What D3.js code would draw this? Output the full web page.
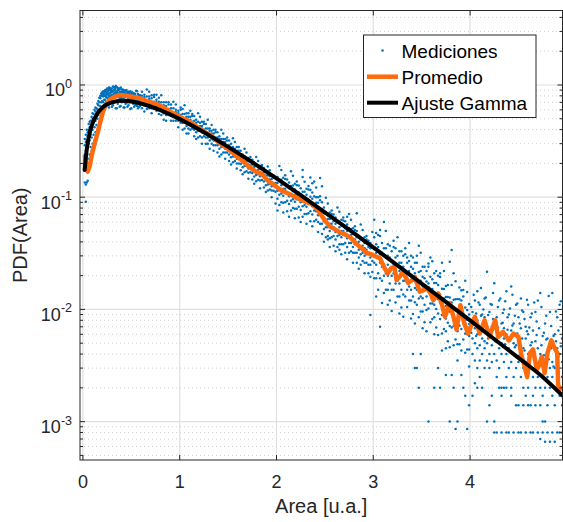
<!DOCTYPE html>
<html>
<head>
<meta charset="utf-8">
<script src="https://cdn.jsdelivr.net/npm/d3@7"></script>
<style>
  body { margin: 0; background: #fff; }
  svg { display: block; }
</style>
</head>
<body>
<svg id="chart" width="563" height="522"></svg>
<script>
// ---- data ----
const xTicks = [0, 1, 2, 3, 4];
const yTicks = [1e-3, 1e-2, 1e-1, 1];
const yTickExp = ['-3', '-2', '-1', '0'];
const legendLabels = ['Mediciones', 'Promedio', 'Ajuste Gamma'];

// each row: [area, measured pdf values at that area...]
const mediciones = [
  [0.02, .135, .2, .24, .29, .33],
  [0.03, .091, .13, .21, .26, .31, .36],
  [0.04, .135, .18, .25, .32, .4],
  [0.05, .14, .22, .28, .35, .38],
  [0.06, .2, .3, .4, .45],
  [0.07, .24, .32, .42, .47],
  [0.08, .22, .28, .36, .48],
  [0.09, .26, .34, .44, .52],
  [0.10, .25, .3, .4, .5, .56],
  [0.11, .29, .36, .46, .55],
  [0.12, .32, .42, .5, .6],
  [0.13, .3, .38, .48, .58, .63],
  [0.14, .36, .44, .55, .62],
  [0.15, .4, .5, .6, .68],
  [0.16, .42, .54, .66, .72],
  [0.17, .47, .6, .7, .77],
  [0.18, .5, .65, .76, .8],
  [0.19, .55, .7, .8, .84],
  [0.20, .6, .72, .82, .86],
  [0.21, .62, .7, .79, .83, .88],
  [0.22, .64, .74, .8, .84, .88],
  [0.23, .66, .74, .8, .86, .9],
  [0.24, .7, .78, .82, .86, .9],
  [0.25, .7, .77, .83, .87, .93],
  [0.26, .66, .76, .82, .88, .92],
  [0.27, .63, .79, .84, .9, .95],
  [0.28, .72, .8, .85, .9, .94],
  [0.29, .72, .8, .86, .89, .92],
  [0.30, .64, .76, .82, .87, .93],
  [0.31, .66, .76, .81, .88, .97],
  [0.32, .7, .79, .84, .9, .96],
  [0.33, .7, .78, .85, .91, .94],
  [0.34, .62, .78, .83, .88, .95, .98],
  [0.35, .62, .8, .84, .87, .96],
  [0.36, .68, .8, .85, .9, .94],
  [0.37, .74, .79, .83, .9, .93],
  [0.38, .64, .77, .82, .87, .92],
  [0.39, .65, .77, .82, .86, .95],
  [0.40, .7, .76, .81, .86, .91],
  [0.41, .71, .75, .84, .88, .91],
  [0.42, .63, .75, .8, .85, .9],
  [0.43, .63, .78, .8, .85, .89],
  [0.44, .68, .74, .79, .84, .89],
  [0.45, .69, .73, .81, .84, .9],
  [0.46, .64, .73, .78, .83, .87],
  [0.47, .66, .76, .79, .83, .87],
  [0.48, .7, .74, .78, .82, .86],
  [0.49, .61, .72, .77, .82, .88],
  [0.50, .62, .72, .77, .81, .85],
  [0.51, .7, .74, .78, .8, .86],
  [0.52, .68, .73, .77, .8, .84],
  [0.53, .64, .71, .76, .81, .84],
  [0.54, .66, .71, .75, .79, .83],
  [0.55, .67, .72, .75, .79, .89],
  [0.56, .65, .7, .74, .78, .88],
  [0.57, .62, .7, .74, .78, .83],
  [0.58, .64, .69, .73, .77, .81],
  [0.59, .65, .68, .73, .77, .81],
  [0.61, .62, .69, .76, .80, .87],
  [0.635, .58, .66, .72, .78, .82],
  [0.66, .61, .68, .72, .79, .91],
  [0.685, .62, .69, .75, .79, .87],
  [0.71, .56, .62, .67, .71, .76, .81],
  [0.735, .62, .68, .71, .78, .82],
  [0.76, .59, .65, .70, .74, .82],
  [0.785, .55, .61, .67, .71, .77],
  [0.81, .54, .60, .64, .70, .81],
  [0.835, .49, .56, .61, .66, .70],
  [0.86, .48, .54, .57, .62, .65, .70],
  [0.885, .54, .58, .61, .67, .70],
  [0.91, .48, .53, .58, .62, .67],
  [0.935, .48, .53, .56, .62, .71],
  [0.96, .48, .53, .57, .6, .67],
  [0.985, .42, .48, .52, .56, .59],
  [1.01, .46, .51, .54, .6, .63],
  [1.03, .40, .46, .51, .55, .61],
  [1.05, .41, .46, .50, .55, .66],
  [1.07, .37, .43, .47, .52, .56],
  [1.09, .37, .41, .45, .49, .52, .56],
  [1.11, .40, .44, .49, .52, .59],
  [1.13, .41, .45, .47, .53, .55],
  [1.15, .35, .40, .44, .48, .53],
  [1.17, .33, .38, .42, .46, .49],
  [1.19, .34, .39, .42, .47, .56],
  [1.21, .35, .39, .43, .46, .52],
  [1.23, .30, .34, .38, .41, .43, .47],
  [1.25, .35, .38, .40, .45, .47],
  [1.27, .30, .34, .38, .41, .45],
  [1.29, .30, .34, .365, .41, .49],
  [1.31, .27, .32, .35, .39, .41],
  [1.33, .30, .33, .37, .39, .44],
  [1.35, .26, .29, .32, .345, .37, .40],
  [1.37, .29, .32, .34, .38, .40],
  [1.39, .25, .29, .32, .34, .38],
  [1.41, .23, .27, .30, .33, .35],
  [1.43, .24, .28, .30, .33, .40],
  [1.45, .25, .28, .31, .33, .37],
  [1.47, .22, .25, .27, .29, .31, .33],
  [1.49, .25, .27, .285, .32, .34],
  [1.51, .21, .24, .27, .29, .32],
  [1.53, .196, .227, .25, .276, .30],
  [1.55, .205, .23, .25, .28, .335],
  [1.57, .21, .23, .257, .27, .31],
  [1.59, .18, .20, .22, .24, .26, .28],
  [1.61, .20, .22, .234, .26, .28],
  [1.63, .174, .198, .22, .24, .26],
  [1.65, .16, .185, .204, .225, .24],
  [1.67, .167, .19, .204, .23, .27],
  [1.69, .17, .19, .21, .224, .25],
  [1.71, .146, .165, .18, .196, .21, .224],
  [1.73, .167, .183, .192, .216, .228],
  [1.75, .144, .164, .182, .196, .216],
  [1.77, .132, .153, .169, .186, .2],
  [1.79, .139, .158, .17, .19, .228],
  [1.81, .143, .16, .176, .188, .21],
  [1.83, .12, .141, .154, .167, .178, .19],
  [1.85, .142, .156, .164, .185, .194],
  [1.87, .122, .138, .154, .166, .182],
  [1.89, .111, .128, .142, .156, .168],
  [1.91, .115, .13, .14, .157, .188],
  [1.93, .117, .131, .144, .154, .174],
  [1.95, .10, .115, .125, .136, .145, .156],
  [1.97, .114, .126, .132, .149, .156],
  [1.99, .088, .112, .124, .134, .148],
  [2.01, .076, .097, .114, .134, .151],
  [2.03, .085, .105, .118, .142, .19],
  [2.05, .09, .108, .128, .143, .175],
  [2.07, .073, .089, .103, .119, .132, .149],
  [2.09, .09, .109, .119, .145, .157],
  [2.11, .075, .093, .111, .125, .144],
  [2.13, .067, .087, .102, .12, .135],
  [2.15, .076, .093, .105, .126, .17],
  [2.17, .08, .096, .113, .127, .155],
  [2.19, .065, .079, .091, .105, .117, .132],
  [2.21, .079, .096, .105, .128, .138],
  [2.23, .066, .082, .098, .11, .127],
  [2.25, .06, .077, .09, .106, .12],
  [2.27, .067, .083, .093, .112, .151, .175],
  [2.29, .071, .085, .1, .112, .137],
  [2.31, .058, .071, .082, .094, .105, .119],
  [2.33, .072, .087, .095, .117, .126],
  [2.35, .061, .075, .09, .101, .116, .15],
  [2.37, .055, .07, .083, .097, .11, .133],
  [2.39, .061, .076, .085, .102, .138],
  [2.41, .063, .075, .089, .1, .122],
  [2.43, .049, .06, .069, .08, .089, .1],
  [2.45, .058, .071, .077, .094, .102, .148],
  [2.47, .047, .058, .069, .078, .09, .125],
  [2.49, .04, .052, .061, .072, .081],
  [2.51, .044, .054, .061, .073, .099],
  [2.53, .042, .045, .054, .064, .071, .088],
  [2.55, .036, .043, .05, .058, .064, .073],
  [2.57, .044, .053, .058, .071, .076],
  [2.59, .037, .045, .054, .061, .07],
  [2.61, .033, .042, .049, .058, .066],
  [2.63, .036, .045, .05, .06, .081],
  [2.65, .034, .038, .046, .054, .06, .074],
  [2.67, .031, .038, .044, .05, .056, .063],
  [2.69, .038, .046, .05, .062, .066],
  [2.71, .032, .039, .047, .053, .061],
  [2.73, .028, .036, .043, .05, .057, .067],
  [2.75, .032, .039, .044, .053, .071],
  [2.77, .033, .039, .046, .052, .063],
  [2.79, .026, .032, .036, .042, .047, .053],
  [2.81, .032, .038, .042, .051, .055],
  [2.83, .026, .032, .039, .044, .05, .072],
  [2.85, .023, .029, .034, .04, .045],
  [2.87, .025, .031, .035, .042, .057],
  [2.89, .027, .032, .037, .042, .051],
  [2.91, .021, .026, .03, .035, .039, .044],
  [2.93, .026, .031, .034, .042, .045],
  [2.95, .021, .025, .032, .036, .041],
  [2.97, .0089, .0195, .025, .029, .035, .039],
  [2.99, .0216, .027, .03, .036, .049],
  [3.01, .019, .026, .036, .044, .063],
  [3.03, .013, .019, .025, .032, .038, .048],
  [3.05, .015, .021, .029, .036, .046],
  [3.07, .007, .019, .026, .031, .045, .051],
  [3.09, .0114, .018, .024, .032, .039],
  [3.11, .014, .02, .025, .035, .06],
  [3.13, .015, .021, .029, .035, .05],
  [3.15, .011, .015, .02, .025, .03, .038],
  [3.17, .012, .017, .023, .029, .037],
  [3.19, .0097, .015, .02, .027, .033],
  [3.21, .015, .021, .025, .036, .041],
  [3.23, .0115, .017, .021, .029, .035],
  [3.25, .013, .018, .025, .03, .044],
  [3.27, .0092, .013, .017, .022, .026, .033],
  [3.29, .0104, .015, .021, .026, .033],
  [3.31, .0086, .0136, .018, .024, .03],
  [3.33, .013, .018, .021, .031, .035],
  [3.35, .0105, .015, .019, .026, .029],
  [3.37, .012, .016, .022, .027, .039],
  [3.39, .0083, .012, .015, .02, .024, .03],
  [3.41, .004, .0091, .013, .018, .023, .029],
  [3.43, .003, .0075, .0116, .0155, .021, .026],
  [3.45, .003, .011, .015, .018, .026, .03],
  [3.47, .002, .0085, .0125, .0155, .0215, .037],
  [3.49, .004, .0096, .013, .018, .022, .032],
  [3.51, .0068, .0096, .0126, .016, .0195, .024],
  [3.53, .0077, .011, .015, .019, .024],
  [3.55, .0064, .0099, .013, .0177, .022],
  [3.57, .001, .0102, .0144, .017, .024, .0257],
  [3.59, .0077, .0113, .014, .0195, .029],
  [3.61, .0082, .0113, .0152, .0186, .0269],
  [3.63, .002, .006, .0085, .011, .0142, .0172, .021],
  [3.65, .0069, .0101, .0137, .0172, .022],
  [3.67, .003, .0059, .0092, .0123, .0165, .02],
  [3.69, .002, .0082, .0115, .0136, .0194, .021],
  [3.71, .0043, .0061, .0089, .011, .0153, .026],
  [3.73, .0067, .0092, .0125, .0152, .022],
  [3.75, .0026, .0045, .0064, .0083, .0107, .0129, .0162],
  [3.77, .0052, .0076, .0103, .0129, .0165],
  [3.79, .001, .0046, .0071, .0096, .0128, .0266],
  [3.81, .0026, .0069, .0098, .0115, .0165, .0338],
  [3.83, .002, .0048, .0071, .0088, .0122, .021],
  [3.85, .00086, .0054, .0075, .0101, .0123, .0178],
  [3.87, .001, .0035, .0049, .0064, .0082, .0099, .0124],
  [3.89, .0049, .0072, .0098, .0123, .0157],
  [3.91, .0026, .0043, .0067, .0089, .012, .0148],
  [3.93, .002, .0054, .0077, .009, .013, .0149],
  [3.95, .0017, .0041, .0061, .0075, .0104, .018],
  [3.97, .00086, .0044, .006, .0081, .0099, .0143],
  [3.99, .0014, .0031, .0044, .0058, .0074, .009, .0112],
  [4.0125, .0062, .0105],
  [4.025, .0017, .004, .0055, .0075, .0095],
  [4.0375, .0078, .0135],
  [4.05, .0022, .0035, .005, .0068, .012],
  [4.0625, .0058, .0092],
  [4.075, .002, .003, .0045, .006, .008, .0145],
  [4.0875, .0068, .0115],
  [4.10, .0025, .0035, .0048, .007, .011],
  [4.1125, .0088, .0155],
  [4.125, .002, .004, .0055, .0065, .009],
  [4.1375, .0064, .01],
  [4.15, .003, .0045, .0052, .0085, .0125],
  [4.1625, .0074, .0128],
  [4.175, .001, .0035, .005, .006, .0217],
  [4.1875, .0055, .0089],
  [4.20, .0014, .003, .004, .0058, .0095],
  [4.2125, .0065, .0112],
  [4.225, .0017, .0034, .0048, .007, .011],
  [4.2375, .0082, .014],
  [4.25, .0008, .001, .004, .0055, .0171],
  [4.2625, .0052, .0078],
  [4.275, .0008, .0025, .0035, .0065, .0085],
  [4.2875, .0069, .0105],
  [4.30, .002, .003, .0045, .006, .012],
  [4.3125, .0058, .0125],
  [4.325, .0008, .0017, .002, .004, .005, .0075],
  [4.3375, .0076, .0093],
  [4.35, .002, .0034, .0055, .0068, .01],
  [4.3625, .0049, .0118],
  [4.375, .0008, .002, .0025, .004, .006, .0145],
  [4.3875, .0066, .0085],
  [4.40, .0008, .003, .0045, .0055, .009],
  [4.4125, .0053, .0102],
  [4.425, .0017, .002, .0034, .0065, .016],
  [4.4375, .0072, .0135],
  [4.45, .0008, .0025, .004, .005, .0075],
  [4.4625, .0046, .0088],
  [4.475, .0014, .003, .0048, .006, .011],
  [4.4875, .0061, .0113],
  [4.50, .0008, .0014, .0034, .0052, .0085],
  [4.5125, .0039, .0075],
  [4.525, .0008, .0025, .004, .0068, .0125],
  [4.5375, .0055, .0098],
  [4.55, .0014, .002, .003, .0045, .0095],
  [4.5625, .0043, .0082],
  [4.575, .0008, .0017, .0034, .0055, .007],
  [4.5875, .0064, .0122],
  [4.60, .0014, .002, .004, .006, .011],
  [4.6125, .0037, .0069],
  [4.625, .0008, .0014, .003, .0048, .0085],
  [4.6375, .0051, .0092],
  [4.65, .0008, .0017, .0025, .004, .0065],
  [4.6625, .0042, .0115],
  [4.675, .0014, .002, .0034, .0052, .0095],
  [4.6875, .0059, .0078],
  [4.70, .0008, .0025, .003, .0045, .012],
  [4.7125, .0034, .0068],
  [4.725, .0007, .0014, .002, .004, .014],
  [4.7375, .0048, .0105],
  [4.75, .0008, .001, .0017, .0025, .0034, .0058],
  [4.7625, .0039, .0062],
  [4.775, .00066, .001, .002, .003, .0075],
  [4.7875, .0054, .0088],
  [4.80, .0008, .0014, .0025, .004, .0055],
  [4.8125, .0036, .0132],
  [4.825, .00066, .002, .003, .0048, .0095],
  [4.8375, .0045, .0071],
  [4.85, .0008, .0017, .0025, .0034, .014],
  [4.8625, .0031, .0058],
  [4.875, .00066, .0014, .002, .003, .006],
  [4.8875, .0052, .0096],
  [4.90, .0008, .0025, .0034, .0045, .0085],
  [4.9125, .0038, .0065],
  [4.925, .0008, .0017, .002, .004, .011],
  [4.9375, .0047, .0118],
  [4.95, .0008, .0014, .0025, .0034, .0055]
];

const promedioX = [0.02, 0.035, 0.05, 0.07, 0.10, 0.13, 0.155, 0.18, 0.207, 0.24, 0.276, 0.32, 0.38, 0.45, 0.52, 0.586, 0.68, 0.79, 0.9, 1.0,
  1.07, 1.15, 1.25, 1.31, 1.4, 1.5, 1.6, 1.72, 1.78, 1.84, 1.88, 1.92, 1.96, 2.03, 2.1, 2.17, 2.25, 2.32, 2.38, 2.45,
  2.5, 2.55, 2.6, 2.65, 2.7, 2.76, 2.82, 2.88, 2.93, 2.98, 3.03, 3.07, 3.12, 3.15, 3.19, 3.22, 3.24, 3.28, 3.31, 3.36,
  3.40, 3.43, 3.48, 3.53, 3.57, 3.62, 3.67, 3.71, 3.74, 3.79, 3.83, 3.86, 3.9, 3.94, 3.98, 4.02, 4.05, 4.10, 4.15, 4.2,
  4.26, 4.29, 4.34, 4.40, 4.45, 4.50, 4.53, 4.56, 4.59, 4.62, 4.65, 4.69, 4.72, 4.74, 4.77, 4.80, 4.84, 4.87, 4.90, 4.91, 4.95];
const promedioY = [0.238, 0.19, 0.169, 0.19, 0.255, 0.32, 0.384, 0.47, 0.578, 0.67, 0.735, 0.78, 0.814, 0.80, 0.78, 0.76, 0.71, 0.66, 0.58, 0.52,
  0.488, 0.44, 0.385, 0.36, 0.31, 0.27, 0.228, 0.187, 0.17, 0.162, 0.15, 0.138, 0.132, 0.118, 0.11, 0.103, 0.095, 0.090, 0.086, 0.072,
  0.062, 0.055, 0.052, 0.049, 0.047, 0.044, 0.039, 0.035, 0.032, 0.031, 0.0295, 0.0285, 0.023, 0.021, 0.0235, 0.0234, 0.0183, 0.02, 0.0217, 0.0172,
  0.0182, 0.0194, 0.0144, 0.015, 0.0155, 0.0121, 0.0139, 0.011, 0.0086, 0.0114, 0.0085, 0.0066, 0.0109, 0.0075, 0.0061, 0.0075, 0.0086, 0.0061, 0.0080, 0.0057,
  0.0080, 0.0057, 0.0063, 0.0053, 0.0061, 0.0057, 0.0039, 0.0032, 0.0025, 0.0041, 0.0044, 0.0029, 0.0033, 0.0038, 0.0027, 0.0041, 0.0053, 0.0046, 0.0041, 0.0021, 0.0019];

const gammaX = [0.018, 0.03, 0.05, 0.075, 0.1, 0.15, 0.2, 0.25, 0.3, 0.4, 0.5, 0.6, 0.8, 1.0, 1.25, 1.5, 1.75, 2.0,
  2.25, 2.5, 2.75, 3.0, 3.25, 3.5, 3.75, 4.0, 4.25, 4.5, 4.75, 4.95];
const gammaY = [0.175, 0.225, 0.306, 0.389, 0.457, 0.557, 0.626, 0.672, 0.701, 0.724, 0.714, 0.684, 0.596, 0.496, 0.379, 0.281, 0.205, 0.147,
  0.1044, 0.0734, 0.0513, 0.0357, 0.0247, 0.0170, 0.01165, 0.00798, 0.00544, 0.0037, 0.0025, 0.00172];

// ---- layout ----
const plot = { left: 80, right: 562.5, top: 10.5, bottom: 460 };
const axisColor = '#262626';
const font = "'Liberation Sans', Arial, Helvetica, sans-serif";

const svg = d3.select('#chart');

const x = d3.scaleLinear().domain([-0.03, 4.955]).range([plot.left, plot.right]);
const y = d3.scaleLog().domain([4.55e-4, 4.61]).range([plot.bottom, plot.top]);

// minor log ticks 2..9 per decade
const yMinor = [];
for (let d = -4; d <= 0; d++) {
  for (let m = 2; m <= 9; m++) {
    const v = m * Math.pow(10, d);
    if (v > y.domain()[0] && v < y.domain()[1]) yMinor.push(v);
  }
}

svg.append('defs').append('clipPath').attr('id', 'clip')
  .append('rect')
  .attr('x', plot.left).attr('y', plot.top)
  .attr('width', plot.right - plot.left).attr('height', plot.bottom - plot.top);

// grid
const grid = svg.append('g').attr('class', 'grid');
grid.selectAll('.minor-y').data(yMinor).join('line')
  .attr('x1', plot.left).attr('x2', plot.right)
  .attr('y1', d => y(d)).attr('y2', d => y(d))
  .attr('stroke', '#c4c4c4').attr('stroke-width', 0.8)
  .attr('stroke-dasharray', '1,3');
grid.selectAll('.major-y').data(yTicks).join('line')
  .attr('x1', plot.left).attr('x2', plot.right)
  .attr('y1', d => y(d)).attr('y2', d => y(d))
  .attr('stroke', '#e0e0e0').attr('stroke-width', 1.2);
grid.selectAll('.major-x').data(xTicks).join('line')
  .attr('x1', d => x(d)).attr('x2', d => x(d))
  .attr('y1', plot.top).attr('y2', plot.bottom)
  .attr('stroke', '#e0e0e0').attr('stroke-width', 1.2);

const marks = svg.append('g').attr('clip-path', 'url(#clip)');

// scatter
const points = mediciones.flatMap(r => r.slice(1).map(v => [r[0], v]));
marks.append('g').selectAll('circle').data(points).join('circle')
  .attr('cx', d => x(d[0])).attr('cy', d => y(d[1]))
  .attr('r', 1.25)
  .attr('fill', '#0072bd');

const line = d3.line().x(d => x(d[0])).y(d => y(d[1]));

marks.append('path')
  .datum(d3.zip(promedioX, promedioY))
  .attr('d', line)
  .attr('fill', 'none')
  .attr('stroke', '#ff6a0d')
  .attr('stroke-width', 4.5)
  .attr('stroke-linejoin', 'round');

marks.append('path')
  .datum(d3.zip(gammaX, gammaY))
  .attr('d', line.curve(d3.curveMonotoneX))
  .attr('fill', 'none')
  .attr('stroke', '#000')
  .attr('stroke-width', 4)
  .attr('stroke-linecap', 'round');

// axes box and inward ticks
const ax = svg.append('g').attr('stroke', axisColor).attr('stroke-width', 1).attr('fill', 'none');
ax.append('rect')
  .attr('x', plot.left).attr('y', plot.top)
  .attr('width', plot.right - plot.left).attr('height', plot.bottom - plot.top);
xTicks.forEach(t => {
  ax.append('line').attr('x1', x(t)).attr('x2', x(t)).attr('y1', plot.bottom).attr('y2', plot.bottom - 5);
  ax.append('line').attr('x1', x(t)).attr('x2', x(t)).attr('y1', plot.top).attr('y2', plot.top + 5);
});
yTicks.forEach(t => {
  ax.append('line').attr('x1', plot.left).attr('x2', plot.left + 5).attr('y1', y(t)).attr('y2', y(t));
  ax.append('line').attr('x1', plot.right).attr('x2', plot.right - 5).attr('y1', y(t)).attr('y2', y(t));
});
yMinor.forEach(t => {
  ax.append('line').attr('x1', plot.left).attr('x2', plot.left + 3).attr('y1', y(t)).attr('y2', y(t));
  ax.append('line').attr('x1', plot.right).attr('x2', plot.right - 3).attr('y1', y(t)).attr('y2', y(t));
});

// tick labels
svg.append('g').selectAll('text').data(xTicks).join('text')
  .attr('x', d => x(d)).attr('y', 488)
  .attr('text-anchor', 'middle')
  .attr('font-family', font).attr('font-size', 18)
  .attr('fill', axisColor)
  .text(d => d);

const yl = svg.append('g');
yTicks.forEach((t, i) => {
  const g = yl.append('text')
    .attr('x', 72).attr('y', y(t) + 11.5)
    .attr('text-anchor', 'end')
    .attr('font-family', font).attr('font-size', 18)
    .attr('fill', axisColor);
  g.append('tspan').text('10');
  g.append('tspan').attr('font-size', 12.5).attr('dy', -8.5).text(yTickExp[i]);
});

// axis titles
svg.append('text')
  .attr('x', (plot.left + plot.right) / 2).attr('y', 513)
  .attr('text-anchor', 'middle')
  .attr('font-family', font).attr('font-size', 20)
  .attr('fill', axisColor)
  .text('Area [u.a.]');

svg.append('text')
  .attr('transform', `translate(27,${(plot.top + plot.bottom) / 2}) rotate(-90)`)
  .attr('text-anchor', 'middle')
  .attr('font-family', font).attr('font-size', 20)
  .attr('fill', axisColor)
  .text('PDF(Area)');

// legend
const lg = svg.append('g');
lg.append('rect')
  .attr('x', 363.5).attr('y', 35)
  .attr('width', 172.5).attr('height', 82.5)
  .attr('fill', '#fff').attr('stroke', axisColor).attr('stroke-width', 1);
const rowY = [50.5, 76.7, 102.7];
lg.append('circle').attr('cx', 382.5).attr('cy', rowY[0]).attr('r', 1.25).attr('fill', '#0072bd');
lg.append('line').attr('x1', 367).attr('x2', 398).attr('y1', rowY[1]).attr('y2', rowY[1])
  .attr('stroke', '#ff6a0d').attr('stroke-width', 4.5);
lg.append('line').attr('x1', 367).attr('x2', 398).attr('y1', rowY[2]).attr('y2', rowY[2])
  .attr('stroke', '#000').attr('stroke-width', 4);
lg.selectAll('text').data(legendLabels).join('text')
  .attr('x', 401.5).attr('y', (d, i) => rowY[i] + 7)
  .attr('font-family', font).attr('font-size', 19)
  .attr('fill', '#000')
  .text(d => d);
</script>
</body>
</html>
